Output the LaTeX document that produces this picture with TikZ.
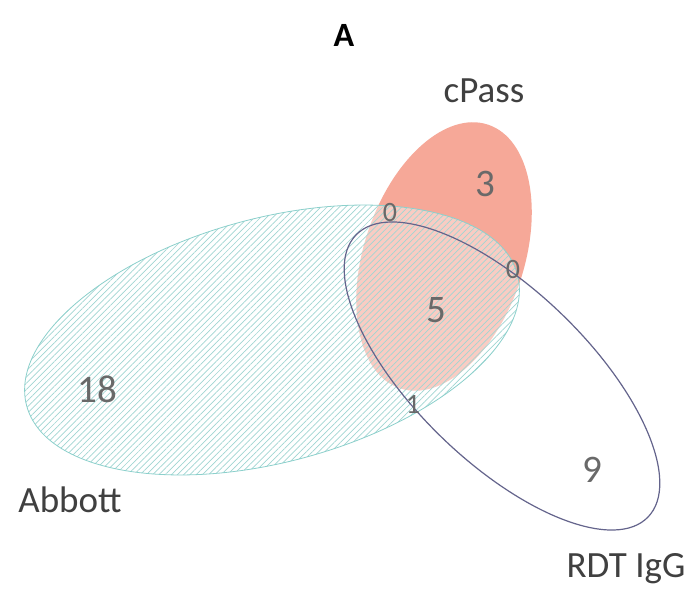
\documentclass[tikz,border=0pt]{standalone}
\usepackage{fontspec}
\setmainfont{Carlito}
\usetikzlibrary{patterns.meta}
\definecolor{cpassfill}{RGB}{246,168,152}
\definecolor{hatch}{RGB}{160,214,210}
\definecolor{abbline}{RGB}{140,208,204}
\definecolor{rdtline}{RGB}{100,100,140}
\definecolor{labtext}{RGB}{64,64,64}
\definecolor{numtext}{RGB}{105,105,105}
\tikzset{
  lab/.style={text=labtext,font=\fontsize{37}{40}\selectfont,anchor=base,inner sep=0pt},
  bignum/.style={text=numtext,font=\fontsize{39}{42}\selectfont,anchor=base,inner sep=0pt},
  smallnum/.style={text=numtext,font=\fontsize{28}{30}\selectfont,anchor=base,inner sep=0pt},
}
\begin{document}
\begin{tikzpicture}[x=1pt,y=1pt]
\useasboundingbox (0,0) rectangle (696,590);
\fill[white] (0,0) rectangle (696,590);
% cPass
\fill[cpassfill,rotate around={71.5:(444,333.5)}] (444,333.5) ellipse [x radius=139, y radius=80];
% Abbott
\fill[white,opacity=0.42,rotate around={15:(272,250)}] (272,250) ellipse [x radius=254, y radius=122];
\path[pattern={Lines[angle=45,distance=4.4pt,line width=0.7pt]},pattern color=hatch,rotate around={15:(272,250)}] (272,250) ellipse [x radius=254, y radius=122];
\draw[abbline,line width=0.8pt,rotate around={15:(272,250)}] (272,250) ellipse [x radius=254, y radius=122];
% RDT IgG
\draw[rdtline,line width=1.2pt,rotate around={-44:(502,214)}] (502,214) ellipse [x radius=203, y radius=86];
% labels
\node[font=\fontsize{34}{36}\bfseries\selectfont,anchor=base,inner sep=0pt] (ttl) at (344,543) {A};
\node[lab] (lcpass) at (484,487) {cPass};
\node[lab] (labbott) at (70,78) {Abbott};
\node[lab] (lrdt) at (626,13) {RDT IgG};
% numbers
\node[bignum] (n3) at (485,393) {3};
\node[bignum] (n5) at (436,268) {5};
\node[bignum] (n18) at (97,188) {18};
\node[bignum] (n9) at (592,108) {9};
\node[smallnum] (n0a) at (390,368) {0};
\node[smallnum] (n0b) at (513,312) {0};
\node[smallnum] (n1) at (413,177) {1};
\end{tikzpicture}
\end{document}
